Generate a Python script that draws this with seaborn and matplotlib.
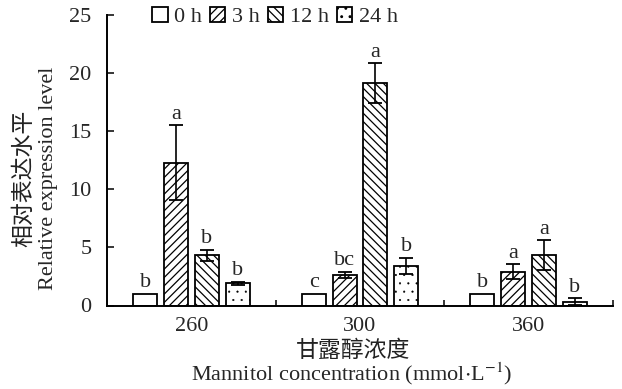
import numpy as np
import pandas as pd
import matplotlib
matplotlib.use("Agg")
import matplotlib.pyplot as plt
import seaborn as sns

# ---- data ----
concentrations = ["260", "300", "360"]
times = ["0 h", "3 h", "12 h", "24 h"]
means = {
    "0 h":  [1.00, 1.00, 1.00],
    "3 h":  [12.29, 2.62, 2.91],
    "12 h": [4.32, 19.12, 4.35],
    "24 h": [1.91, 3.43, 0.33],
}
errors = {
    "0 h":  [0.0, 0.0, 0.0],
    "3 h":  [3.24, 0.28, 0.66],
    "12 h": [0.49, 1.72, 1.29],
    "24 h": [0.14, 0.69, 0.29],
}
letters = {
    "0 h":  ["b", "c", "b"],
    "3 h":  ["a", "bc", "a"],
    "12 h": ["b", "a", "a"],
    "24 h": ["b", "b", "b"],
}
yticks = [0, 5, 10, 15, 20, 25]

rows = []
for t in times:
    for i, c in enumerate(concentrations):
        rows.append({"conc": c, "time": t, "value": means[t][i]})
df = pd.DataFrame(rows)

sns.set_style("ticks")
plt.rcParams["font.family"] = ["Liberation Serif", "Noto Sans CJK SC"]
plt.rcParams["hatch.linewidth"] = 0.9
plt.rcParams["mathtext.fontset"] = "stix"

FS = 16

fig = plt.figure(figsize=(6.22, 3.89), dpi=100)
ax = fig.add_axes([107 / 622, 1 - 305.5 / 389, (613 - 107) / 622, (305.5 - 15) / 389])

sns.barplot(data=df, x="conc", y="value", hue="time", order=concentrations,
            hue_order=times, palette=["white"] * 4, edgecolor="black",
            linewidth=1.3, width=0.73, gap=0.22, errorbar=None, legend=False,
            saturation=1, ax=ax)

hatches = ["", "////", "\\\\\\\\", ".."]
handles = []
for t, cont, h in zip(times, ax.containers, hatches):
    xs = []
    for p in cont.patches:
        p.set_hatch(h)
        p.set_facecolor("white")
        p.set_edgecolor("black")
        if h == ".." and hasattr(p, "set_hatch_linewidth"):
            p.set_hatch_linewidth(0.3)
        xs.append(p.get_x() + p.get_width() / 2)
    xs = np.array(xs)
    ys = np.array(means[t])
    es = np.array(errors[t])
    mask = es > 0
    if mask.any():
        ax.errorbar(xs[mask], ys[mask], yerr=es[mask], fmt="none", ecolor="black",
                    elinewidth=1.2, capsize=4.7, capthick=1.3, zorder=5)
    for x, y, e, lab in zip(xs, ys, es, letters[t]):
        ax.annotate(lab, (x, y + e), xytext=(0, 1.0), textcoords="offset points",
                    ha="center", va="bottom", fontsize=FS)
    handles.append(cont.patches[0])

ax.set_xlim(-0.5, 2.5)
ax.set_ylim(0, 25)
ax.set_yticks(yticks)
ax.set_yticklabels([str(v) for v in yticks])
ax.set_xticks(range(len(concentrations)))
ax.set_xticklabels(concentrations)
ax.set_xticks([0.5, 1.5, 2.5], minor=True)
ax.tick_params(axis="x", which="major", length=0, pad=8, labelsize=FS)
ax.tick_params(axis="x", which="minor", direction="in", length=4, width=1.3)
ax.tick_params(axis="y", which="major", direction="in", length=5, width=1.3,
               pad=11, labelsize=FS)
ax.set_xlabel("")
ax.set_ylabel("")
for s in ["top", "right"]:
    ax.spines[s].set_visible(False)
for s in ["left", "bottom"]:
    ax.spines[s].set_linewidth(1.4)
    ax.spines[s].set_color("black")

# axis titles
fig.text(24 / 622, 1 - 178 / 389, "相对表达水平", rotation=90, ha="center",
         va="center", fontsize=16.5, color="#222222")
fig.text(49 / 622, 1 - 178 / 389, "Relative expression level", rotation=90,
         ha="center", va="center", fontsize=FS)
fig.text(353 / 622, 1 - 351 / 389, "甘露醇浓度", ha="center", va="center",
         fontsize=16.5, color="#222222")
fig.text(352 / 622, 1 - 374 / 389, r"Mannitol concentration (mmol$\cdot$L$^{-1}$)",
         ha="center", va="center", fontsize=FS)

fig.legend(handles=handles, labels=times, loc="center left",
           bbox_to_anchor=(152 / 622, 1 - 17 / 389), ncol=4, frameon=False,
           fontsize=FS, handlelength=0.7, handleheight=0.7,
           handletextpad=0.3, columnspacing=0.35, borderpad=0, borderaxespad=0)

fig.savefig("out.png", dpi=100)
